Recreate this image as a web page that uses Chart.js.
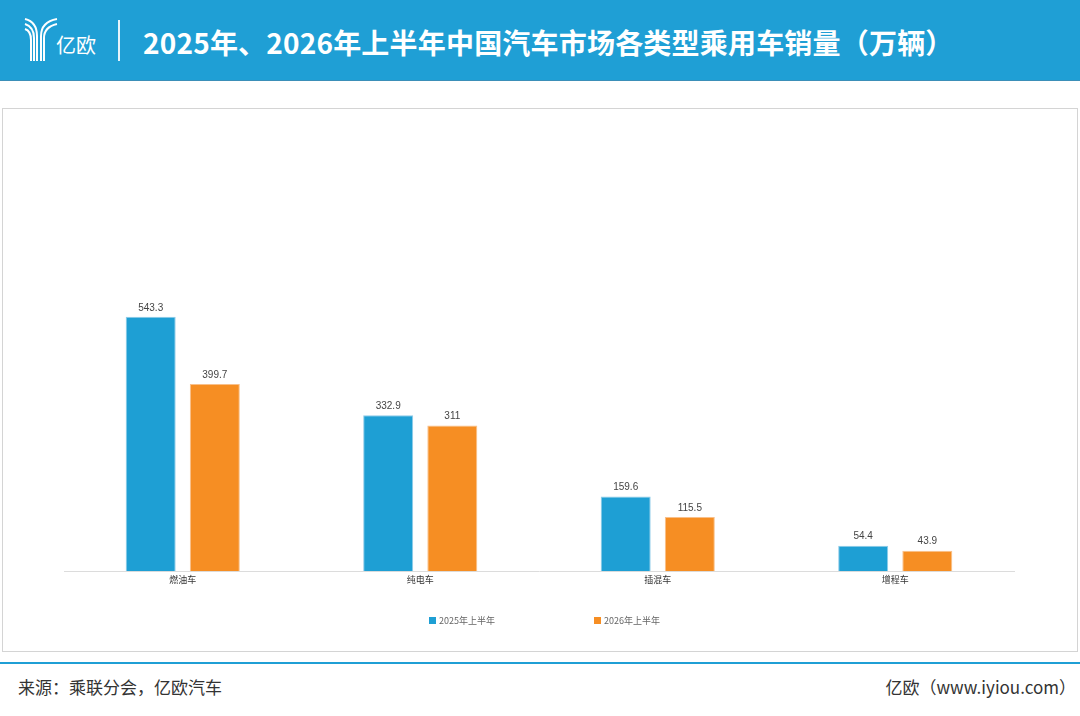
<!DOCTYPE html>
<html>
<head>
<meta charset="utf-8">
<script src="https://cdn.jsdelivr.net/npm/chart.js@4"></script>
<style>
  body { margin: 0; width: 1080px; height: 716px; background: #fff; position: relative; overflow: hidden;
         font-family: "Noto Sans CJK SC", "Noto Sans", sans-serif; }
  .header { position: absolute; left: 0; top: 0; width: 1080px; height: 80px; background: #1f9fd5;
            border-bottom: 1px solid #3b8fb8; }
  .title { position: absolute; left: 143px; top: 20px; color: #fff; font-size: 28px; font-weight: bold;
           line-height: 44px; white-space: nowrap; letter-spacing: 0.2px; }
  .divider { position: absolute; left: 118px; top: 20px; width: 2px; height: 41px; background: #e6f3fa; }
  .brand { position: absolute; left: 56px; top: 32px; color: #fff; font-size: 20px; line-height: 26px; }
  .box { position: absolute; left: 2px; top: 108px; width: 1074px; height: 542px; border: 1px solid #d4d4d4; }
  #wrap { position: absolute; left: 0; top: 0; width: 1074px; height: 542px; }
  .legend { position: absolute; top: 506px; font-size: 9px; color: #666; line-height: 12px; white-space: nowrap; }
  .legend i { display: inline-block; width: 7px; height: 7px; margin-right: 3px; vertical-align: -0px; }
  .footline { position: absolute; left: 0; top: 662px; width: 1080px; height: 2px; background: #1f9fd5; }
  .src { position: absolute; left: 18px; top: 675px; font-size: 17px; color: #333; line-height: 24px; }
  .site { position: absolute; right: 4px; top: 675px; font-size: 17px; color: #333; line-height: 24px; }
</style>
</head>
<body>
<div class="header">
  <svg style="position:absolute;left:24px;top:16px" width="34" height="46" viewBox="0 0 34 46">
    <g fill="none" stroke="#fff" stroke-width="2">
      <path d="M1 3 Q13 6 13 20 L13 45"/>
      <path d="M1 8 Q10 11 10 22 L10 45"/>
      <path d="M1 13 Q7 15 7 24 L7 45"/>
      <path d="M33 3 Q17 6 17 20 L17 45"/>
      <path d="M33 8 Q20 11 20 22 L20 45"/>
    </g>
  </svg>
  <div class="brand">亿欧</div>
  <div class="divider"></div>
  <div class="title">2025年、2026年上半年中国汽车市场各类型乘用车销量（万辆）</div>
</div>

<div class="box">
  <div id="wrap"><canvas id="myChart"></canvas></div>
  <div class="legend" style="left:426px"><i style="background:#1e9fd4"></i>2025年上半年</div>
  <div class="legend" style="left:591px"><i style="background:#f68e23"></i>2026年上半年</div>
</div>

<div class="footline"></div>
<div class="src">来源：乘联分会，亿欧汽车</div>
<div class="site">亿欧（www.iyiou.com）</div>

<script>
const categorias = ['燃油车', '纯电车', '插混车', '增程车'];
const ventas2025 = [543.3, 332.9, 159.6, 54.4];
const ventas2026 = [399.7, 311, 115.5, 43.9];
const etiquetas = ['2025年上半年', '2026年上半年'];

// dibuja el valor encima de cada barra
const valoresPlugin = {
  id: 'valores',
  afterDatasetsDraw(chart) {
    const ctx = chart.ctx;
    ctx.save();
    ctx.font = '10px "Liberation Sans", Arial, sans-serif';
    ctx.fillStyle = '#444';
    ctx.textAlign = 'center';
    ctx.textBaseline = 'bottom';
    chart.data.datasets.forEach((ds, i) => {
      chart.getDatasetMeta(i).data.forEach((bar, j) => {
        ctx.fillText(String(ds.data[j]), bar.x, bar.y - 4);
      });
    });
    ctx.restore();
  }
};

const ctx = document.getElementById('myChart');
new Chart(ctx, {
  type: 'bar',
  data: {
    labels: categorias,
    datasets: [
      { label: etiquetas[0], data: ventas2025, backgroundColor: '#1e9fd4', borderColor: '#8fcbe8', borderWidth: 1 },
      { label: etiquetas[1], data: ventas2026, backgroundColor: '#f68e23', borderColor: '#f9c08a', borderWidth: 1 }
    ]
  },
  options: {
    responsive: true,
    maintainAspectRatio: false,
    animation: false,
    layout: { padding: { left: 61, right: 63, top: 22, bottom: 63 } },
    plugins: { legend: { display: false }, tooltip: { enabled: false } },
    datasets: { bar: { categoryPercentage: 0.54, barPercentage: 0.78 } },
    scales: {
      x: {
        grid: { display: false, drawTicks: false },
        border: { color: '#dcdcdc' },
        ticks: { color: '#333', font: { size: 9, family: '"Noto Sans CJK SC"' }, padding: 3 }
      },
      y: { display: false, min: 0, max: 940 }
    }
  },
  plugins: [valoresPlugin]
});
</script>
</body>
</html>
